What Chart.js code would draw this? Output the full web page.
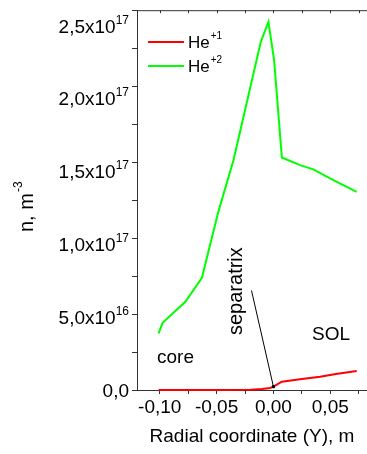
<!DOCTYPE html>
<html>
<head>
<meta charset="utf-8">
<script src="https://cdn.jsdelivr.net/npm/chart.js@4.4.1/dist/chart.umd.min.js"></script>
<style>
  body { margin: 0; background: #fff; }
  #wrap { width: 367px; height: 454px; position: relative; }
</style>
</head>
<body>
<div id="wrap"><canvas id="myChart"></canvas></div>
<script>
// He+1 density, n [m^-3] vs radial coordinate Y [m]
const he1X = [-0.101, -0.05, -0.02, -0.01, -0.003, 0.0, 0.0074, 0.0234, 0.041, 0.055, 0.0732];
const he1Y = [0, 0, 2e14, 7e14, 1.4e15, 2.3e15, 5.7e15, 7.3e15, 9.1e15, 1.1e16, 1.3e16];

// He+2 density
const he2X = [-0.101, -0.0975, -0.0775, -0.0629, -0.0483, -0.0351, -0.0111, -0.0044, 0.0006, 0.0074, 0.0234, 0.0351, 0.0527, 0.0732];
const he2Y = [3.89e16, 4.61e16, 6.05e16, 7.70e16, 1.227e17, 1.577e17, 2.388e17, 2.525e17, 2.262e17, 1.595e17, 1.542e17, 1.513e17, 1.44e17, 1.359e17];

const seriesNames = ['He', 'He'];
const seriesSup = ['+1', '+2'];
const seriesColors = ['#ff0000', '#00ff00'];

// y tick labels (mantissa, exponent)
const yTickVals = [0, 5e16, 1e17, 1.5e17, 2e17, 2.5e17];
const yTickMant = ['0,0', '5,0', '1,0', '1,5', '2,0', '2,5'];
const yTickExp = ['', '16', '17', '17', '17', '17'];

const FONT = '"Liberation Sans", Arial, sans-serif';

function pts(xs, ys) {
  return xs.map((x, i) => ({x: x, y: ys[i]}));
}

const extras = {
  id: 'extras',
  afterDraw(chart) {
    const ctx = chart.ctx;
    const a = chart.chartArea;
    const xs = chart.scales.x, ys = chart.scales.y;
    ctx.save();

    // top frame with inward ticks
    ctx.strokeStyle = '#333';
    ctx.lineWidth = 1;
    ctx.beginPath();
    ctx.moveTo(a.left, a.top + 0.5);
    ctx.lineTo(a.right, a.top + 0.5);
    xs.ticks.forEach(t => {
      const px = Math.round(xs.getPixelForValue(t.value)) + 0.5;
      ctx.moveTo(px, a.top);
      ctx.lineTo(px, a.top + 3);
    });
    ctx.stroke();

    // y tick labels with superscripts
    ctx.fillStyle = '#000';
    ctx.textAlign = 'right';
    ctx.textBaseline = 'alphabetic';
    const rx = a.left - 8;
    yTickVals.forEach((v, i) => {
      const py = ys.getPixelForValue(v);
      if (yTickExp[i]) {
        ctx.font = '12px ' + FONT;
        ctx.fillText(yTickExp[i], rx, py - 2);
        const w = ctx.measureText(yTickExp[i]).width;
        ctx.font = '19px ' + FONT;
        ctx.fillText(yTickMant[i] + 'x10', rx - w, py + 7);
      } else {
        ctx.font = '19px ' + FONT;
        ctx.fillText(yTickMant[i], rx, py + 7);
      }
    });

    // y axis title "n, m-3"
    ctx.save();
    ctx.translate(33, 232);
    ctx.rotate(-Math.PI / 2);
    ctx.textAlign = 'left';
    ctx.font = '20px ' + FONT;
    ctx.fillText('n, m', 0, 0);
    const tw = ctx.measureText('n, m').width;
    ctx.font = '12px ' + FONT;
    ctx.fillText('-3', tw + 1, -11);
    ctx.restore();

    // legend
    ctx.textAlign = 'left';
    seriesNames.forEach((name, i) => {
      const ly = 42 + i * 24;
      ctx.strokeStyle = seriesColors[i];
      ctx.lineWidth = 2;
      ctx.beginPath();
      ctx.moveTo(148, ly);
      ctx.lineTo(184, ly);
      ctx.stroke();
      ctx.font = '17px ' + FONT;
      ctx.fillText(name, 188, ly + 6);
      const w = ctx.measureText(name).width;
      ctx.font = '10px ' + FONT;
      ctx.fillText(seriesSup[i], 188 + w + 1, ly - 3);
    });

    // annotations
    ctx.font = '19px ' + FONT;
    ctx.fillText('core', 157, 363);
    ctx.fillText('SOL', 312, 340);

    ctx.save();
    ctx.translate(242, 335);
    ctx.rotate(-Math.PI / 2);
    ctx.font = '20px ' + FONT;
    ctx.fillText('separatrix', 0, 0);
    ctx.restore();

    // leader line to the separatrix point on the He+1 curve
    const ex = xs.getPixelForValue(he1X[5]);
    const ey = ys.getPixelForValue(he1Y[5]);
    ctx.strokeStyle = '#000';
    ctx.lineWidth = 1;
    ctx.beginPath();
    ctx.moveTo(251.5, 290.5);
    ctx.lineTo(ex, ey);
    ctx.stroke();
    ctx.fillRect(ex - 1.5, ey - 1.5, 3, 3);

    ctx.restore();
  }
};

const ctx1 = document.getElementById('myChart').getContext('2d');
const myChart = new Chart(ctx1, {
  type: 'line',
  data: {
    datasets: [{
      label: 'He+1',
      data: pts(he1X, he1Y),
      borderColor: seriesColors[0],
      borderWidth: 2,
      pointRadius: 0,
      tension: 0,
      fill: false,
      clip: false
    }, {
      label: 'He+2',
      data: pts(he2X, he2Y),
      borderColor: seriesColors[1],
      borderWidth: 2,
      pointRadius: 0,
      tension: 0,
      fill: false,
      clip: false
    }]
  },
  options: {
    responsive: true,
    maintainAspectRatio: false,
    animation: false,
    layout: { padding: { top: 10, right: 0, left: 0, bottom: 0 } },
    plugins: {
      legend: { display: false },
      tooltip: { enabled: false }
    },
    scales: {
      x: {
        type: 'linear',
        min: -0.12,
        max: 0.0823,
        grid: { drawOnChartArea: false, drawTicks: true, tickLength: 4, color: '#333' },
        border: { color: '#333', width: 1 },
        ticks: {
          stepSize: 0.025,
          includeBounds: false,
          autoSkip: false,
          maxRotation: 0,
          padding: 2,
          color: '#000',
          font: { family: FONT, size: 19 },
          callback: function(v) {
            const k = Math.round(v / 0.025);
            if (k % 2 !== 0) return '';
            const r = k * 0.025;
            return (Math.abs(r) < 1e-9 ? 0 : r).toFixed(2).replace('.', ',');
          }
        },
        title: {
          display: true,
          text: 'Radial coordinate (Y), m',
          color: '#000',
          font: { family: FONT, size: 19 },
          padding: { top: 0, bottom: 6 }
        },
        afterFit: function(s) { s.height = 64; }
      },
      y: {
        min: 0,
        max: 2.605e17,
        grid: { drawOnChartArea: false, drawTicks: true, tickLength: 5, color: '#333' },
        border: { color: '#333', width: 1 },
        ticks: {
          stepSize: 2.5e16,
          includeBounds: false,
          autoSkip: false,
          callback: function() { return ''; }
        },
        afterFit: function(s) { s.width = 137; }
      }
    }
  },
  plugins: [extras]
});
</script>
</body>
</html>
